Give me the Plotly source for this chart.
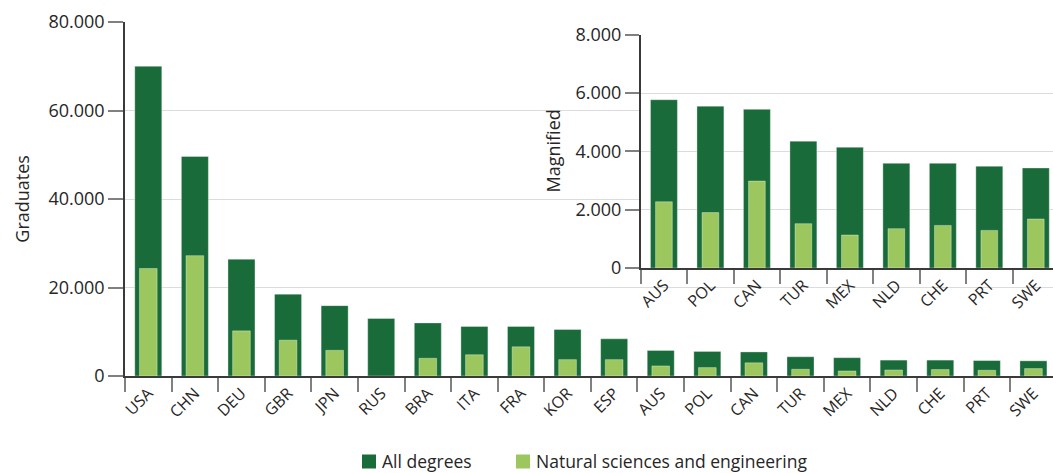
import plotly.graph_objects as go

countries = ["USA", "CHN", "DEU", "GBR", "JPN", "RUS", "BRA", "ITA", "FRA", "KOR",
             "ESP", "AUS", "POL", "CAN", "TUR", "MEX", "NLD", "CHE", "PRT", "SWE"]
all_degrees = [70000, 49600, 26400, 18500, 15900, 13000, 12000, 11200, 11200, 10500,
               8400, 5770, 5550, 5440, 4350, 4140, 3590, 3590, 3490, 3430]
nat_sci_eng = [24300, 27200, 10200, 8100, 5800, None, 4000, 4800, 6600, 3700,
               3700, 2270, 1900, 2980, 1520, 1130, 1350, 1460, 1290, 1680]
inset_start = 11  # AUS onwards are magnified
main_yticks = [0, 20000, 40000, 60000, 80000]
inset_yticks = [0, 2000, 4000, 6000, 8000]
series_names = ["All degrees", "Natural sciences and engineering"]

DARK = "#196b3a"
LIGHT = "#9cc75f"
TXT = "#262626"
FONT = "Open Sans"
W, H = 1053, 473

fig = go.Figure()
outline = dict(color="rgba(255,255,255,0.35)", width=1)

# main chart
fig.add_trace(go.Bar(x=countries, y=all_degrees, name=series_names[0], marker=dict(color=DARK, line=outline),
                     width=0.58, xaxis="x", yaxis="y"))
fig.add_trace(go.Bar(x=countries, y=nat_sci_eng, name=series_names[1],
                     marker=dict(color=LIGHT, line=outline), width=0.38, xaxis="x", yaxis="y"))
# inset
fig.add_trace(go.Bar(x=countries[inset_start:], y=all_degrees[inset_start:], name=series_names[0],
                     marker=dict(color=DARK, line=outline), width=0.58, xaxis="x2", yaxis="y2"))
fig.add_trace(go.Bar(x=countries[inset_start:], y=nat_sci_eng[inset_start:], name=series_names[1],
                     marker=dict(color=LIGHT, line=outline), width=0.36, xaxis="x2", yaxis="y2"))

def py(px):
    return (H - px) / H

def px_(x):
    return x / W

axis_common = dict(showline=True, linecolor="#3a3a3a", linewidth=1.5, ticks="outside",
                   tickcolor="#808080", tickwidth=1.5, tickfont=dict(family=FONT, size=18, color=TXT))

# legend drawn as swatches + labels at the bottom
legend_swatches = [(362, DARK), (516, LIGHT)]
shapes = [dict(type="rect", xref="x2 domain", yref="y2 domain",
               x0=(537 - 640.7) / (W - 640.7), x1=1.0,
               y0=(268 - 325) / (268 - 34.7), y1=(268 - 24.5) / (268 - 34.7),
               fillcolor="white", line=dict(width=0), layer="below")]
annotations = [
    dict(text="Graduates", textangle=-90, x=px_(21.7), y=py(199), xref="paper", yref="paper",
         xanchor="center", yanchor="middle", showarrow=False, font=dict(family=FONT, size=18, color=TXT)),
    dict(text="Magnified", textangle=-90, x=px_(552.5), y=py(151), xref="paper", yref="paper",
         xanchor="center", yanchor="middle", showarrow=False, font=dict(family=FONT, size=18, color=TXT)),
]
for (x0, col), name in zip(legend_swatches, series_names):
    shapes.append(dict(type="rect", xref="paper", yref="paper", x0=px_(x0), x1=px_(x0 + 14),
                       y0=py(468.5), y1=py(454.5), fillcolor=col, line=dict(width=0), layer="above"))
    annotations.append(dict(text=name, x=px_(x0 + 19), y=py(460.5), xref="paper", yref="paper",
                            xanchor="left", yanchor="middle", showarrow=False, borderpad=0,
                            font=dict(family=FONT, size=17.5, color=TXT)))

fig.update_layout(
    width=W, height=H, margin=dict(l=0, r=0, t=0, b=0, autoexpand=False),
    paper_bgcolor="white", plot_bgcolor="white", barmode="overlay", showlegend=False,
    separators=",.", font=dict(family=FONT, color=TXT),
    xaxis=dict(domain=[125 / W, 1], range=[-0.5, 19.42], type="category", showline=True,
               linecolor="#3a3a3a", linewidth=1.5, ticks="outside", tickson="boundaries", ticklen=14,
               tickcolor="#808080", tickwidth=1.5, tickangle=-45,
               tickfont=dict(family=FONT, size=16, color=TXT), showgrid=False, anchor="y"),
    yaxis=dict(domain=[py(376), py(22)], range=[0, 80000], tickvals=main_yticks, tickformat=",d",
               ticklen=15, showgrid=True, gridcolor="#dcdcdc", gridwidth=1, zeroline=False,
               anchor="x", **axis_common),
    xaxis2=dict(domain=[640.7 / W, 1], range=[-0.5, 8.37], type="category", showline=True,
                linecolor="#3a3a3a", linewidth=1.5, ticks="outside", tickson="boundaries", ticklen=14,
                tickcolor="#808080", tickwidth=1.5, tickangle=-45,
                tickfont=dict(family=FONT, size=16, color=TXT), showgrid=False, anchor="y2"),
    yaxis2=dict(domain=[py(268), py(34.7)], range=[0, 8000], tickvals=inset_yticks, tickformat=",d",
                ticklen=14, showgrid=True, gridcolor="#dcdcdc", gridwidth=1, zeroline=False,
                anchor="x2", **axis_common),
    shapes=shapes,
    annotations=annotations,
)

fig.write_html("out.html", config={"displayModeBar": False},
               post_script="document.body.style.margin='0';document.body.style.overflow='hidden';")
